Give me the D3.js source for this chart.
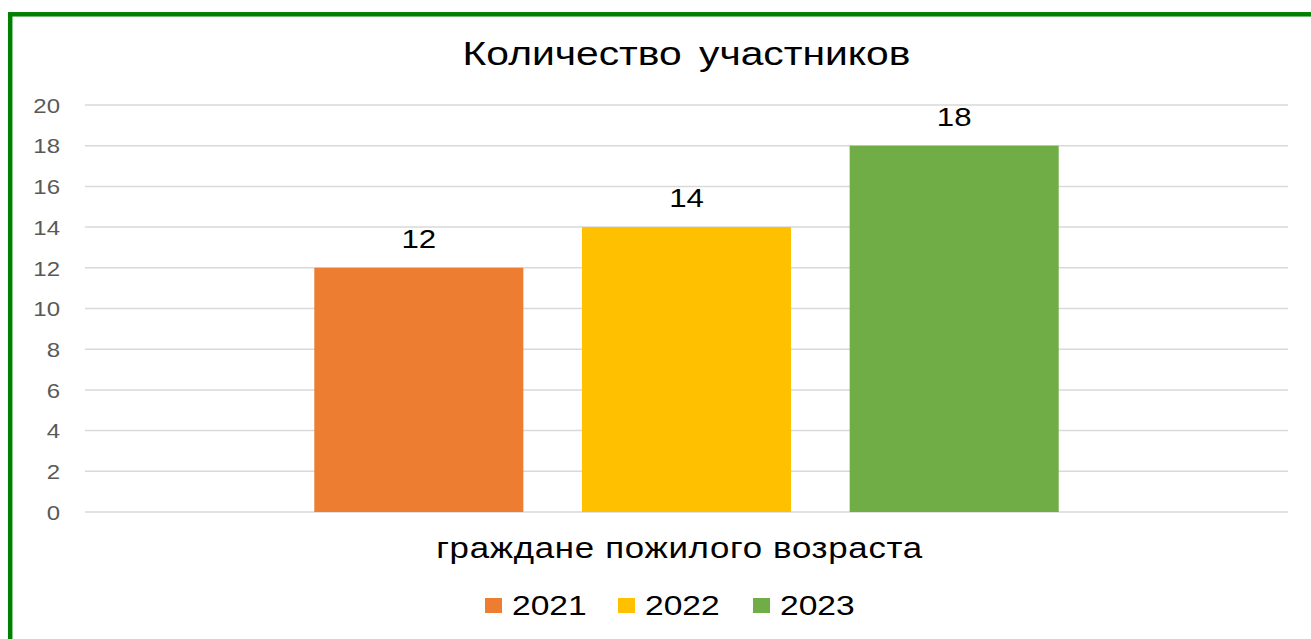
<!DOCTYPE html>
<html>
<head>
<meta charset="utf-8">
<script src="https://cdn.jsdelivr.net/npm/d3@7"></script>
<style>
  body { margin: 0; background: #fff; }
  svg { display: block; }
</style>
</head>
<body>
<script>
// Chart data
const category = "граждане пожилого возраста";
const years = ["2021", "2022", "2023"];
const counts = [12, 14, 18];
const colors = ["#ed7d31", "#ffc000", "#70ad47"];
const yTicks = [0, 2, 4, 6, 8, 10, 12, 14, 16, 18, 20];

const W = 1311, H = 639;
const margin = { top: 105, right: 23, bottom: 127, left: 85 };
const width = W - margin.left - margin.right;
const height = H - margin.top - margin.bottom;
const stretch = 1.2; // the source picture is widened horizontally
const font = "'Liberation Sans', Arial, sans-serif";

const svg = d3.select("body")
    .append("svg")
    .attr("width", W)
    .attr("height", H);

// green frame (runs off right and bottom)
svg.append("rect")
    .attr("x", 10.2)
    .attr("y", 14.3)
    .attr("width", W + 20)
    .attr("height", H + 20)
    .attr("fill", "none")
    .attr("stroke", "#008000")
    .attr("stroke-width", 4.5);

const g = svg.append("g")
    .attr("transform", `translate(${margin.left},${margin.top})`);

const yScale = d3.scaleLinear().domain([0, 20]).range([height, 0]);

const x0 = d3.scaleBand().domain([category]).range([0, width]).paddingInner(0).paddingOuter(0.308);
const x1 = d3.scaleBand().domain(years).range([0, x0.bandwidth()]).paddingInner(0.219).paddingOuter(0);

// helper: stretched text at a point
function label(sel, x, y, size, anchor) {
    return sel.append("text")
        .attr("transform", `translate(${x},${y}) scale(${stretch},1)`)
        .attr("text-anchor", anchor)
        .style("font-family", font)
        .style("font-size", size + "px")
        .attr("fill", "#000");
}

// gridlines
g.append("g")
    .selectAll("line")
    .data(yTicks)
    .enter()
    .append("line")
    .attr("x1", 0)
    .attr("x2", width)
    .attr("y1", d => yScale(d))
    .attr("y2", d => yScale(d))
    .attr("stroke", "#d9d9d9")
    .attr("stroke-width", 1.5);

// y axis labels
const yAxis = d3.axisLeft(yScale).tickValues(yTicks).tickSize(0).tickPadding(0);
g.append("g")
    .attr("transform", "translate(-25,0)")
    .call(yAxis)
    .call(a => a.select(".domain").remove())
    .selectAll(".tick text")
    .attr("x", 0)
    .attr("dy", "0.36em")
    .attr("transform", `scale(${stretch},1)`)
    .attr("fill", "#595959")
    .style("font-family", font)
    .style("font-size", "20px");

// bars
const bars = g.append("g")
    .attr("transform", `translate(${x0(category)},0)`);

bars.selectAll("rect")
    .data(years)
    .enter()
    .append("rect")
    .attr("x", d => x1(d))
    .attr("width", x1.bandwidth())
    .attr("y", (d, i) => yScale(counts[i]))
    .attr("height", (d, i) => height - yScale(counts[i]))
    .attr("fill", (d, i) => colors[i]);

years.forEach((d, i) => {
    label(bars, x1(d) + x1.bandwidth() / 2, yScale(counts[i]) - 20, 26, "middle")
        .text(counts[i]);
});

// category label
label(g, x0(category) + x0.bandwidth() / 2 - 7, height + 46, 29, "middle")
    .style("letter-spacing", "0.6px")
    .text(category);

// title
label(svg, margin.left + width / 2, 65, 34, "middle")
    .style("word-spacing", "5px")
    .text("Количество участников");

// legend
const legendX = [485, 618, 753];
const legend = svg.append("g").attr("id", "legend");
years.forEach((d, i) => {
    const it = legend.append("g").attr("transform", `translate(${legendX[i]},615)`);
    it.append("rect")
        .attr("x", 0)
        .attr("y", -17)
        .attr("width", 17)
        .attr("height", 15)
        .attr("fill", colors[i]);
    label(it, 27, 0, 28, "start").text(d);
});
</script>
</body>
</html>
